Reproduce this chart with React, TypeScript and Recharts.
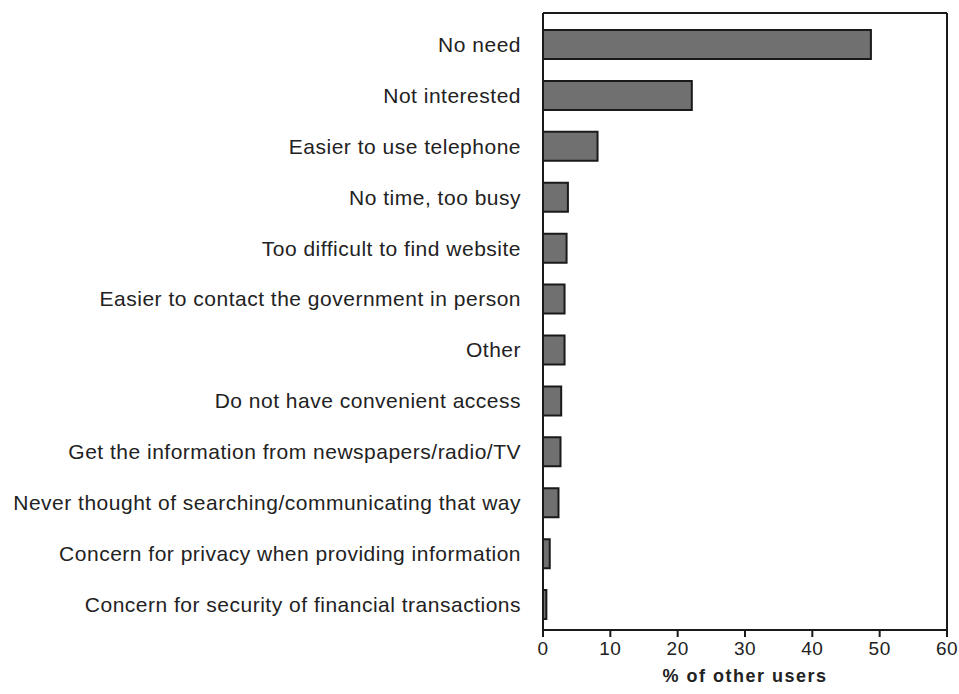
import * as React from 'react';
import { ComposedChart, Bar, Line, XAxis, YAxis } from 'recharts';

const reasons = [
  'No need',
  'Not interested ',
  'Easier to use telephone',
  'No time, too busy',
  'Too difficult to find website',
  'Easier to contact the government in person',
  'Other',
  'Do not have convenient access',
  'Get the information from newspapers/radio/TV',
  'Never thought of searching/communicating that way',
  'Concern for privacy when providing information',
  'Concern for security of financial transactions',
];

const percents = [48.7, 22.1, 8.1, 3.7, 3.5, 3.2, 3.2, 2.7, 2.6, 2.3, 1.0, 0.5];

const xTicks = [0, 10, 20, 30, 40, 50, 60];

const data = reasons.map((label, i) => ({ label, value: percents[i] }));

const ink = '#1a1a1a';
const font = '"Liberation Sans", Arial, sans-serif';

export default function App() {
  return (
    <div style={{ position: 'absolute', left: 0, top: 0, fontFamily: font }}>
      <ComposedChart
        width={959}
        height={694}
        data={data}
        layout="vertical"
        margin={{ top: 12, right: 11, bottom: 0, left: 0 }}
        barCategoryGap={0}
        style={{ fontFamily: font }}
      >
        <XAxis
          type="number"
          domain={[0, 60]}
          ticks={xTicks}
          interval={0}
          height={64}
          stroke={ink}
          strokeWidth={2}
          tickSize={7}
          tickMargin={5}
          tick={{ fill: '#222', fontSize: 19, fontFamily: font, letterSpacing: 0.5 }}
          label={{
            value: '%  of other users',
            position: 'insideBottom',
            offset: 12,
            fill: '#222',
            fontSize: 18,
            fontWeight: 'bold',
            fontFamily: font,
            letterSpacing: 1.5,
          }}
        />
        <XAxis
          xAxisId="top"
          orientation="top"
          type="number"
          domain={[0, 60]}
          height={1}
          tick={false}
          tickLine={false}
          stroke={ink}
          strokeWidth={2}
        />
        <YAxis
          type="category"
          dataKey="label"
          width={543}
          interval={0}
          padding={{ top: 6, bottom: 0 }}
          stroke={ink}
          strokeWidth={2}
          tickLine={false}
          tickSize={0}
          tickMargin={22}
          tick={{ fill: '#222', fontSize: 21, fontFamily: font, letterSpacing: 0.5 }}
        />
        <YAxis
          yAxisId="right"
          orientation="right"
          type="category"
          dataKey="label"
          width={1}
          padding={{ top: 6, bottom: 0 }}
          tick={false}
          tickLine={false}
          stroke={ink}
          strokeWidth={2}
        />
        <Bar
          dataKey="value"
          fill="#707070"
          stroke={ink}
          strokeWidth={2}
          barSize={29}
          isAnimationActive={false}
        />
        <Line
          xAxisId="top"
          yAxisId="right"
          dataKey="value"
          stroke="none"
          dot={false}
          activeDot={false}
          legendType="none"
          isAnimationActive={false}
        />
      </ComposedChart>
    </div>
  );
}
